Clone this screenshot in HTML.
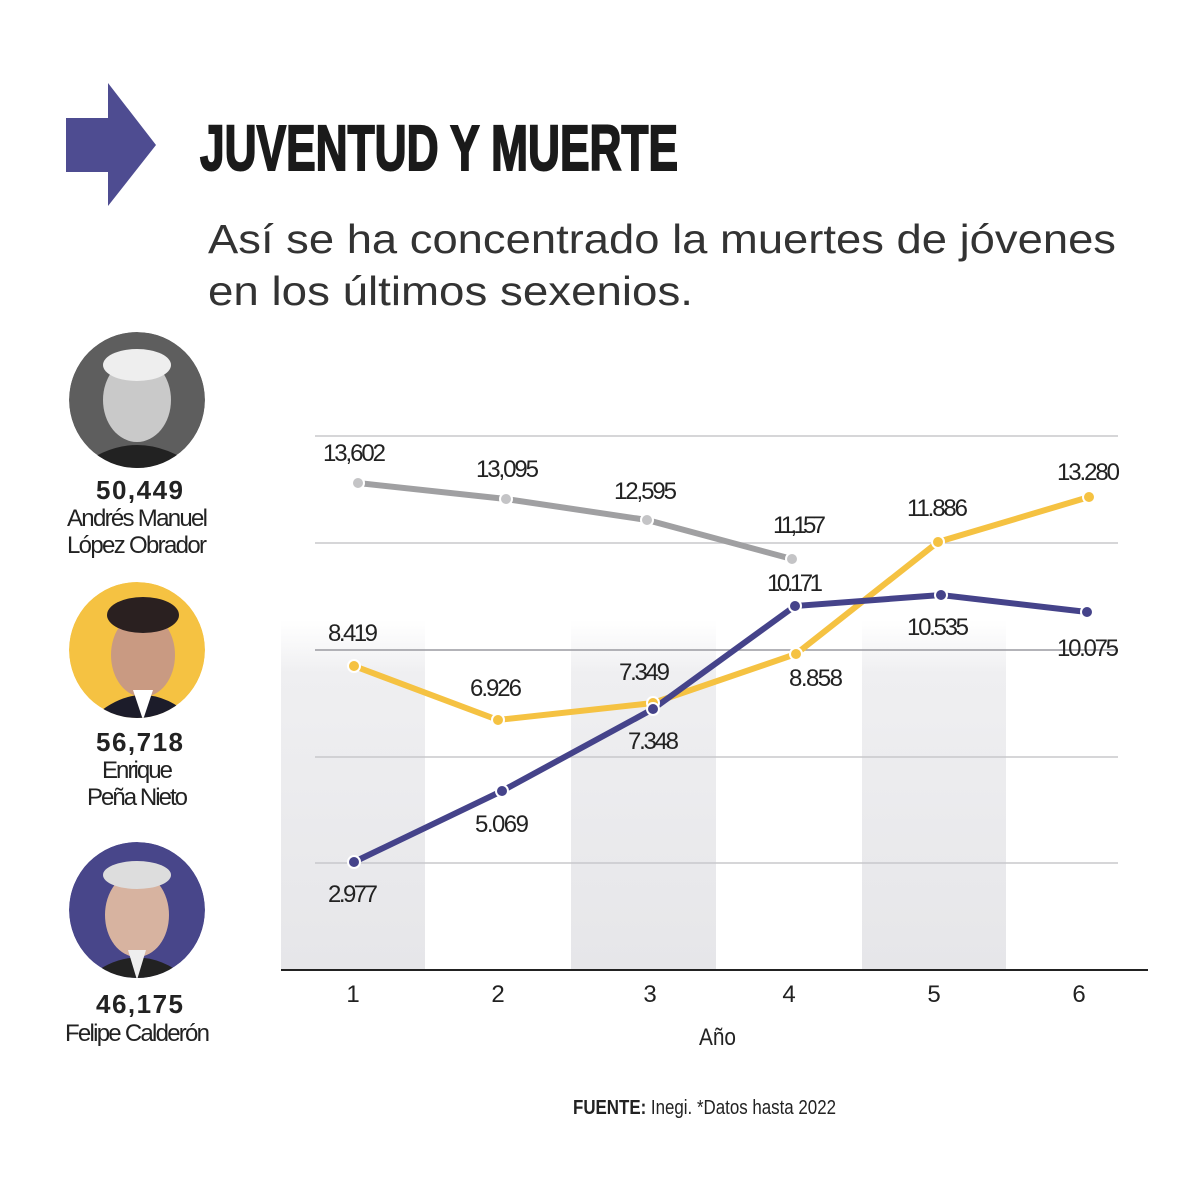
<!DOCTYPE html>
<html><head><meta charset="utf-8"><style>
html,body{margin:0;padding:0;background:#fff;}
svg{display:block}
text{font-family:"Liberation Sans",sans-serif;}
</style></head><body>
<svg width="1200" height="1200" viewBox="0 0 1200 1200" xmlns="http://www.w3.org/2000/svg">
<defs>
<linearGradient id="col" x1="0" y1="0" x2="0" y2="1">
<stop offset="0" stop-color="#f2f2f4" stop-opacity="0"/>
<stop offset="0.15" stop-color="#efeff1"/>
<stop offset="1" stop-color="#e6e6e9"/>
</linearGradient>
<clipPath id="c1"><circle cx="137" cy="400" r="68"/></clipPath>
<clipPath id="c2"><circle cx="137" cy="650" r="68"/></clipPath>
<clipPath id="c3"><circle cx="137" cy="910" r="68"/></clipPath>
</defs>
<rect width="1200" height="1200" fill="#fff"/>
<polygon points="66,118 108,118 108,83 156,145 108,206 108,172 66,172" fill="#4e4c91"/>
<text x="200" y="170" font-size="64" font-weight="bold" fill="#1a1a1a" stroke="#1a1a1a" stroke-width="2" textLength="478" lengthAdjust="spacingAndGlyphs">JUVENTUD Y MUERTE</text>
<text x="208" y="253" font-size="41" fill="#333" textLength="908" lengthAdjust="spacingAndGlyphs">Así se ha concentrado la muertes de jóvenes</text>
<text x="208" y="305" font-size="41" fill="#333" textLength="485" lengthAdjust="spacingAndGlyphs">en los últimos sexenios.</text>

<g clip-path="url(#c1)"><circle cx="137" cy="400" r="68" fill="#5e5e5e"/><ellipse cx="137" cy="400" rx="34" ry="42" fill="#c9c9c9"/><ellipse cx="137" cy="365" rx="34" ry="16" fill="#eee"/><path d="M75,470 Q137,420 200,470Z" fill="#222"/></g>
<g clip-path="url(#c2)"><circle cx="137" cy="650" r="68" fill="#f5c242"/><ellipse cx="143" cy="655" rx="32" ry="42" fill="#c99a82"/><ellipse cx="143" cy="615" rx="36" ry="18" fill="#2a2020"/><path d="M90,720 Q143,670 195,720Z" fill="#1c1c2a"/><path d="M133,690 L143,720 L153,690Z" fill="#fff"/></g>
<g clip-path="url(#c3)"><circle cx="137" cy="910" r="68" fill="#48468a"/><ellipse cx="137" cy="915" rx="32" ry="42" fill="#d7b3a0"/><ellipse cx="137" cy="875" rx="34" ry="14" fill="#ddd"/><path d="M85,980 Q137,935 190,980Z" fill="#222"/><path d="M128,950 L137,980 L146,950Z" fill="#eee"/></g>

<g fill="#222" font-size="24" lengthAdjust="spacingAndGlyphs">
<text x="96" y="499" font-size="26" font-weight="bold" textLength="87">50,449</text>
<text x="67" y="526" textLength="141">Andrés Manuel</text>
<text x="67" y="553" textLength="140">López Obrador</text>
<text x="96" y="751" font-size="26" font-weight="bold" textLength="87">56,718</text>
<text x="102" y="778" textLength="71">Enrique</text>
<text x="87" y="805" textLength="101">Peña Nieto</text>
<text x="96" y="1013" font-size="26" font-weight="bold" textLength="87">46,175</text>
<text x="65" y="1041" textLength="145">Felipe Calderón</text>
</g>

<rect x="281" y="620" width="144" height="350" fill="url(#col)"/>
<rect x="571" y="620" width="145" height="350" fill="url(#col)"/>
<rect x="862" y="620" width="144" height="350" fill="url(#col)"/>
<g stroke="#c8c8cc" stroke-width="1.5">
<line x1="315" y1="436" x2="1118" y2="436"/>
<line x1="315" y1="543" x2="1118" y2="543"/>
<line x1="315" y1="650" x2="1118" y2="650" stroke="#9a9aa0"/>
<line x1="315" y1="757" x2="1118" y2="757"/>
<line x1="315" y1="863" x2="1118" y2="863"/>
</g>
<line x1="281" y1="970" x2="1148" y2="970" stroke="#222" stroke-width="2"/>

<polyline points="358,483 506,499 647,520 792,559" fill="none" stroke="#a0a0a2" stroke-width="6"/>
<polyline points="354,666 498,720 653,703 796,654 938,542 1089,497" fill="none" stroke="#f5c242" stroke-width="6"/>
<polyline points="354,862 502,791 653,709 795,606 941,595 1087,612" fill="none" stroke="#45438a" stroke-width="6"/>
<g stroke="#fff" stroke-width="2">
<g fill="#c4c4c6"><circle cx="358" cy="483" r="6"/><circle cx="506" cy="499" r="6"/><circle cx="647" cy="520" r="6"/><circle cx="792" cy="559" r="6"/></g>
<g fill="#f5c242"><circle cx="354" cy="666" r="6"/><circle cx="498" cy="720" r="6"/><circle cx="653" cy="703" r="6"/><circle cx="796" cy="654" r="6"/><circle cx="938" cy="542" r="6"/><circle cx="1089" cy="497" r="6"/></g>
<g fill="#45438a"><circle cx="354" cy="862" r="6"/><circle cx="502" cy="791" r="6"/><circle cx="653" cy="709" r="6"/><circle cx="795" cy="606" r="6"/><circle cx="941" cy="595" r="6"/><circle cx="1087" cy="612" r="6"/></g>
</g>

<g fill="#222" font-size="24" lengthAdjust="spacingAndGlyphs">
<text x="323" y="461" textLength="63">13,602</text>
<text x="476" y="477" textLength="63">13,095</text>
<text x="614" y="499" textLength="63">12,595</text>
<text x="773" y="533" textLength="53">11,157</text>
<text x="328" y="641" textLength="50">8.419</text>
<text x="470" y="696" textLength="52">6.926</text>
<text x="619" y="680" textLength="51">7.349</text>
<text x="789" y="686" textLength="54">8.858</text>
<text x="907" y="516" textLength="61">11.886</text>
<text x="1057" y="480" textLength="63">13.280</text>
<text x="328" y="902" textLength="50">2.977</text>
<text x="475" y="832" textLength="54">5.069</text>
<text x="628" y="749" textLength="51">7.348</text>
<text x="767" y="591" textLength="56">10.171</text>
<text x="907" y="635" textLength="62">10.535</text>
<text x="1057" y="656" textLength="62">10.075</text>
</g>
<g fill="#222" font-size="24" text-anchor="middle">
<text x="353" y="1002">1</text><text x="498" y="1002">2</text><text x="650" y="1002">3</text>
<text x="789" y="1002">4</text><text x="934" y="1002">5</text><text x="1079" y="1002">6</text>
</g>
<text x="699" y="1045" font-size="24" fill="#222" textLength="37" lengthAdjust="spacingAndGlyphs">Año</text>
<text x="573" y="1114" font-size="20" fill="#222" textLength="263" lengthAdjust="spacingAndGlyphs"><tspan font-weight="bold">FUENTE:</tspan> Inegi. *Datos hasta 2022</text>
</svg>
</body></html>
